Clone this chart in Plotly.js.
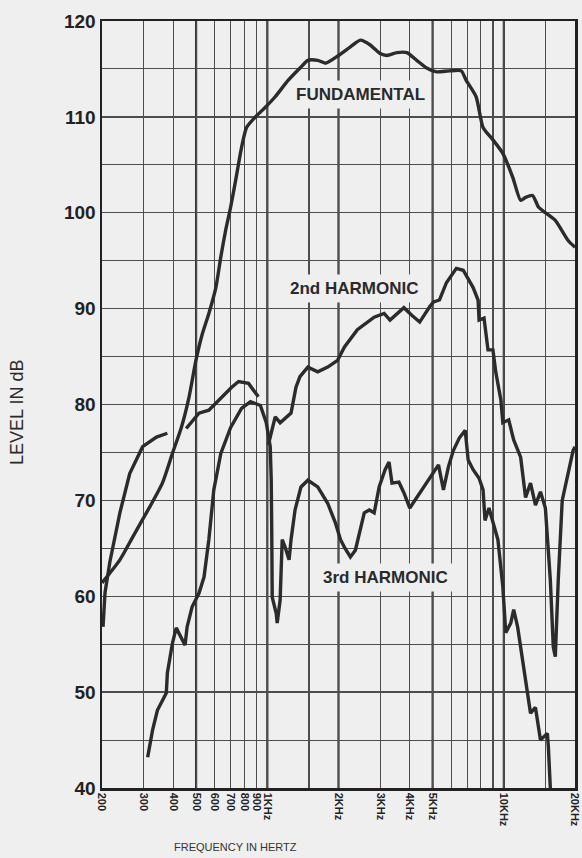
<!DOCTYPE html>
<html>
<head>
<meta charset="utf-8">
<script src="https://cdn.plot.ly/plotly-3.0.1.min.js"></script>
<style>
  html, body { margin: 0; padding: 0; background: #efefef; }
  #chart { width: 582px; height: 858px; }
</style>
</head>
<body>
<div id="chart"></div>
<script>
// ---- data (frequency in Hz, level in dB) ----
var fundFreq = [200, 238, 270, 318, 360, 397, 433, 467, 499, 529, 566, 606, 636, 667, 700, 735, 778, 817, 891, 981,
  1080, 1224, 1388, 1484, 1634, 1766, 2001, 2246, 2474, 2724, 3000, 3209, 3533, 3890, 4283, 4717, 5194, 5888, 6608, 6934,
  7636, 8170, 8995, 9904, 10910, 11780, 12360, 13230, 14010, 14990, 16510, 18710, 20000];
var fundDb = [61.4, 63.8, 66.2, 69.3, 71.8, 74.9, 77.6, 80.8, 84.6, 87.2, 89.5, 92.2, 95.4, 98.2, 100.6, 103.4, 106.8, 108.9, 110.0, 111.0,
  112.1, 113.8, 115.2, 115.9, 115.9, 115.6, 116.4, 117.3, 118.0, 117.5, 116.6, 116.4, 116.7, 116.7, 115.9, 115.1, 114.7, 114.8, 114.8, 113.8,
  112.1, 108.9, 107.6, 106.2, 103.7, 101.3, 101.6, 101.8, 100.6, 100.0, 99.2, 97.1, 96.4];

var h2Freq = [202, 206, 216, 238, 262, 297, 340, 378, 410, 454, 514, 566, 624, 667, 707, 756, 833, 917, 960, 1010,
  1080, 1133, 1190, 1260, 1322, 1374, 1484, 1634, 1800, 1982, 2120, 2403, 2831, 3118, 3303, 3780, 4082, 4409, 4856, 5047,
  5346, 5719, 6298, 6737, 7419, 7785, 7861, 8249, 8574, 8995, 9259, 9714, 9904, 10490, 11010, 11780, 12360, 12970, 13610, 14290,
  14990, 15730, 16190, 16510, 16990, 17660, 19630, 20000];
var h2Db = [56.8, 60.4, 63.6, 68.7, 72.8, 75.6, 76.6, 77.0, null, 77.5, 79.1, 79.4, 80.5, 81.2, 81.8, 82.4, 82.2, 80.8, null, 75.8,
  78.7, 78.1, 78.6, 79.1, 81.8, 82.9, 83.9, 83.4, 83.9, 84.6, 86.0, 87.8, 89.1, 89.5, 88.8, 90.1, 89.3, 88.6, 90.2, 90.7,
  90.9, 92.7, 94.2, 94.0, 92.2, 90.9, 88.8, 89.0, 85.7, 85.7, 83.3, 80.5, 78.1, 78.4, 76.3, 74.5, 70.3, 71.8, 69.5, 70.9,
  69.2, 61.7, 54.7, 53.7, 61.7, 70.0, 75.2, 75.6];

var h3Freq = [312, 327, 343, 374, 378, 397, 412, 433, 449, 458, 481, 514, 540, 566, 594, 636, 700, 778, 849, 935,
  990, 1029, 1039, 1044, 1049, 1091, 1101, 1133, 1156, 1190, 1236, 1260, 1310, 1388, 1484, 1634, 1800, 1944, 2040, 2120,
  2246, 2357, 2474, 2570, 2698, 2831, 2971, 3148, 3271, 3367, 3602, 3780, 4004, 4201, 4582, 5047, 5295, 5556, 5831, 6118,
  6483, 6868, 7070, 7419, 7861, 8170, 8329, 8657, 8995, 9439, 9904, 10190, 10700, 11010, 11440, 12010, 12600, 12970, 13610, 14290,
  15280, 15430, 15730];
var h3Db = [43.2, 46.0, 48.1, 49.9, 52.0, 55.1, 56.7, 55.7, 54.9, 56.8, 58.9, 60.3, 62.0, 65.9, 71.1, 74.9, 77.6, 79.6, 80.3, 79.9,
  78.1, 75.6, 72.1, 66.9, 59.9, 58.2, 57.2, 59.6, 65.9, 65.1, 63.8, 65.9, 69.0, 71.4, 72.1, 71.4, 69.7, 67.6, 65.9, 65.1,
  64.1, 64.8, 67.2, 68.7, 69.0, 68.7, 71.4, 73.2, 74.0, 71.8, 71.9, 70.8, 69.2, 70.0, 71.4, 73.0, 73.7, 71.1, 73.5, 75.2,
  76.5, 77.3, 74.2, 73.2, 72.3, 71.1, 67.9, 69.2, 67.6, 65.9, 61.0, 56.2, 57.2, 58.6, 56.8, 53.3, 49.5, 47.8, 48.4, 45.0,
  45.7, 44.3, 40.0];

// ---- axis labels ----
var xTickVals = [200, 300, 400, 500, 600, 700, 800, 900, 1000, 2000, 3000, 4000, 5000, 10000, 20000];
var xTickText = ['200', '300', '400', '500', '600', '700', '800', '900', '1KHz', '2KHz', '3KHz', '4KHz', '5KHz', '10KHz', '20KHz'];
var xMinorVals = [1500, 6000, 7000, 8000, 9000, 15000];
var xHeavyVals = [500, 1000, 2000, 5000, 10000];
var yTickVals = [40, 50, 60, 70, 80, 90, 100, 110, 120];

var seriesNames = ['FUNDAMENTAL', '2nd HARMONIC', '3rd HARMONIC'];

var ink = '#2b2b2b';
var lineStyle = {color: ink, width: 3.4, shape: 'linear'};
var smoothStyle = {color: ink, width: 3.4, shape: 'spline', smoothing: 0.6};

var traces = [
  {x: fundFreq, y: fundDb, name: seriesNames[0], mode: 'lines', line: smoothStyle, connectgaps: false, hoverinfo: 'skip'},
  {x: h2Freq, y: h2Db, name: seriesNames[1], mode: 'lines', line: lineStyle, connectgaps: false, hoverinfo: 'skip'},
  {x: h3Freq, y: h3Db, name: seriesNames[2], mode: 'lines', line: lineStyle, connectgaps: false, hoverinfo: 'skip'}
];

var gridColor = '#4d4d4d';
var shapes = xHeavyVals.map(function (v) {
  return {type: 'line', xref: 'x', yref: 'paper', x0: v, x1: v, y0: 0, y1: 1,
          line: {color: '#333', width: 2.2}, layer: 'below'};
});

var labelFont = {family: 'Liberation Sans, Arial, sans-serif', size: 17, color: '#2a2a2a', weight: 'bold'};

var layout = {
  width: 582, height: 858,
  margin: {l: 102, r: 7, t: 21, b: 70},
  paper_bgcolor: '#efefef',
  plot_bgcolor: '#efefef',
  showlegend: false,
  xaxis: {
    type: 'log',
    range: [Math.log10(200), Math.log10(20000)],
    tickmode: 'array', tickvals: xTickVals, ticktext: xTickText,
    tickangle: 90,
    ticklabeloverflow: 'allow',
    tickfont: {family: 'Liberation Sans, Arial, sans-serif', size: 11, color: '#222', weight: 'bold'},
    ticks: '',
    showgrid: true, gridcolor: gridColor, gridwidth: 1.1,
    minor: {tickmode: 'array', tickvals: xMinorVals, showgrid: true, gridcolor: gridColor, gridwidth: 1.1, ticks: ''},
    showline: true, linecolor: '#222', linewidth: 2.5, mirror: true,
    zeroline: false, fixedrange: true
  },
  yaxis: {
    range: [40, 120],
    tickmode: 'array', tickvals: yTickVals,
    tickfont: {family: 'Liberation Sans, Arial, sans-serif', size: 19, color: '#222', weight: 'bold'},
    ticks: '',
    showgrid: true, gridcolor: gridColor, gridwidth: 1.3,
    minor: {dtick: 5, tick0: 40, showgrid: true, gridcolor: gridColor, gridwidth: 1.1, ticks: ''},
    showline: true, linecolor: '#222', linewidth: 2.5, mirror: true,
    zeroline: false, fixedrange: true
  },
  shapes: shapes,
  annotations: [
    {xref: 'x', yref: 'y', x: Math.log10(2474), y: 112.3, text: seriesNames[0], showarrow: false,
     font: labelFont, bgcolor: '#efefef', borderpad: 4},
    {xref: 'x', yref: 'y', x: Math.log10(2334), y: 92.1, text: seriesNames[1], showarrow: false,
     font: labelFont, bgcolor: '#efefef', borderpad: 4},
    {xref: 'x', yref: 'y', x: Math.log10(3148), y: 62.0, text: seriesNames[2], showarrow: false,
     font: labelFont, bgcolor: '#efefef', borderpad: 4},
    {xref: 'paper', yref: 'paper', x: 0, y: 0.489, xshift: -85, xanchor: 'center', yanchor: 'middle',
     text: 'LEVEL IN dB', textangle: -90, showarrow: false,
     font: {family: 'Liberation Sans, Arial, sans-serif', size: 18, color: '#2a2a2a'}},
    {xref: 'paper', yref: 'paper', x: 0.283, y: -0.077, xanchor: 'center', yanchor: 'middle',
     text: 'FREQUENCY IN HERTZ', showarrow: false,
     font: {family: 'Liberation Sans, Arial, sans-serif', size: 11, color: '#333'}}
  ]
};

Plotly.newPlot('chart', traces, layout, {staticPlot: true, displayModeBar: false});
</script>
</body>
</html>
